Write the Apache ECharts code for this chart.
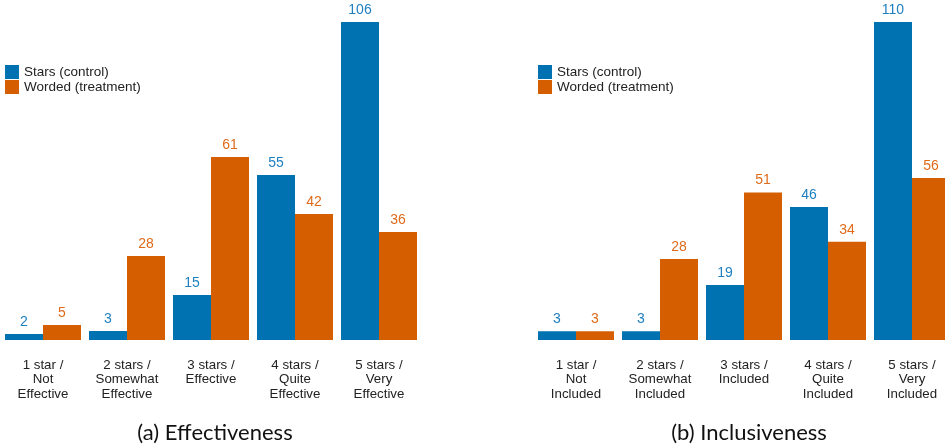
<!DOCTYPE html>
<html>
<head>
<meta charset="utf-8">
<script src="https://cdn.jsdelivr.net/npm/echarts@6/dist/echarts.min.js"></script>
<style>html,body{margin:0;padding:0;background:#fff}#c{width:945px;height:446px}</style>
</head>
<body>
<div id="c"></div>
<script>
const categoriesA = ["1 star /\nNot\nEffective", "2 stars /\nSomewhat\nEffective", "3 stars /\nEffective", "4 stars /\nQuite\nEffective", "5 stars /\nVery\nEffective"];
const categoriesB = ["1 star /\nNot\nIncluded", "2 stars /\nSomewhat\nIncluded", "3 stars /\nIncluded", "4 stars /\nQuite\nIncluded", "5 stars /\nVery\nIncluded"];
const starsA = [2, 3, 15, 55, 106];
const wordedA = [5, 28, 61, 42, 36];
const starsB = [3, 3, 19, 46, 110];
const wordedB = [3, 28, 51, 34, 56];
const titleA = "(a) Effectiveness";
const titleB = "(b) Inclusiveness";
const seriesNames = ["Stars (control)", "Worded (treatment)"];

const BLUE = "#0072B2", ORANGE = "#D55E00";
const chart = echarts.init(document.getElementById('c'), null, {renderer: 'canvas'});
const labelFont = "'Liberation Sans', Arial, sans-serif";

function xAx(cats, gi) {
  return {
    type: 'category', gridIndex: gi, data: cats,
    axisLine: {show: false}, axisTick: {show: false},
    axisLabel: {interval: 0, margin: 18, fontFamily: labelFont, fontSize: 13.3, color: '#222', lineHeight: 14.5}
  };
}
function yAx(gi, max) {
  return {type: 'value', gridIndex: gi, min: 0, max: max, show: false, splitLine: {show: false}};
}
function bar(name, data, gi, color, labelColor) {
  return {
    type: 'bar', name: name, data: data, xAxisIndex: gi, yAxisIndex: gi,
    barGap: 0, barCategoryGap: '9.52%',
    itemStyle: {color: color},
    label: {show: true, position: 'top', distance: 5, color: labelColor, fontFamily: labelFont, fontSize: 14},
    emphasis: {disabled: true}, animation: false
  };
}
function legend(left) {
  return {
    data: seriesNames, orient: 'vertical', left: left, top: 65,
    itemWidth: 14, itemHeight: 14, itemGap: 1, icon: 'rect',
    textStyle: {fontFamily: labelFont, fontSize: 13.5, color: '#222', padding: 0, lineHeight: 14},
    padding: 0, selectedMode: false
  };
}
chart.setOption({
  animation: false,
  color: [BLUE, ORANGE],
  title: [
    {text: titleA, left: 210, top: 417, textAlign: 'center', textStyle: {fontFamily: 'Lato, sans-serif', fontWeight: 'normal', fontSize: 22, color: '#111'}},
    {text: titleB, left: 744, top: 417, textAlign: 'center', textStyle: {fontFamily: 'Lato, sans-serif', fontWeight: 'normal', fontSize: 22, color: '#111'}}
  ],
  legend: [legend(5), legend(538)],
  grid: [
    {left: 1, top: 22, width: 420, height: 318, outerBoundsMode: 'none', containLabel: false},
    {left: 534, top: 22, width: 420, height: 318, outerBoundsMode: 'none', containLabel: false}
  ],
  xAxis: [xAx(categoriesA, 0), xAx(categoriesB, 1)],
  yAxis: [yAx(0, Math.max(...starsA, ...wordedA)), yAx(1, Math.max(...starsB, ...wordedB))],
  series: [
    bar(seriesNames[0], starsA, 0, BLUE, '#1F80C0'),
    bar(seriesNames[1], wordedA, 0, ORANGE, '#DE6A1A'),
    bar(seriesNames[0], starsB, 1, BLUE, '#1F80C0'),
    bar(seriesNames[1], wordedB, 1, ORANGE, '#DE6A1A')
  ]
});
</script>
</body>
</html>
